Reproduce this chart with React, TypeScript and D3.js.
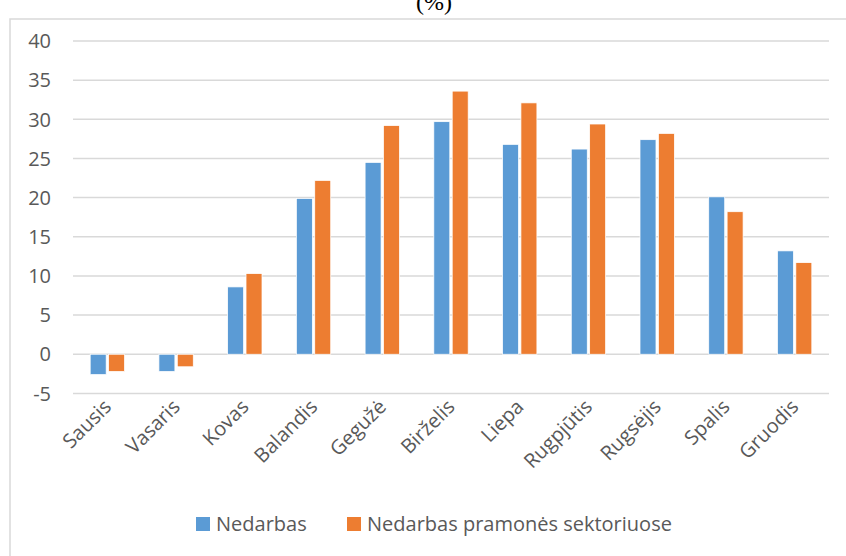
import { useRef, useEffect } from "react";
import * as d3 from "d3";

const categories = [
  "Sausis",
  "Vasaris",
  "Kovas",
  "Balandis",
  "Gegužė",
  "Birželis",
  "Liepa",
  "Rugpjūtis",
  "Rugsėjis",
  "Spalis",
  "Gruodis",
];
const seriesNames = ["Nedarbas", "Nedarbas pramonės sektoriuose"];
const nedarbas = [-2.6, -2.2, 8.6, 19.9, 24.5, 29.7, 26.8, 26.2, 27.4, 20.1, 13.2];
const pramone = [-2.2, -1.6, 10.3, 22.2, 29.2, 33.6, 32.1, 29.4, 28.2, 18.2, 11.7];
const yTicks = [-5, 0, 5, 10, 15, 20, 25, 30, 35, 40];
const colors = ["#5B9BD5", "#ED7D31"];

export default function App() {
  const svgRef = useRef<SVGSVGElement>(null);

  useEffect(() => {
    if (!svgRef.current) return;
    document.body.style.margin = "0";

    const width = 846;
    const height = 556;
    const plot = { left: 73, right: 829, top: 41, bottom: 393.4 };

    const svg = d3.select(svgRef.current);
    svg.selectAll("*").remove();
    svg.attr("width", width).attr("height", height).style("display", "block");

    svg.append("rect").attr("width", width).attr("height", height).attr("fill", "#fff");

    // outer chart border (only left/top visible, cropped on the other sides)
    svg
      .append("path")
      .attr("d", `M10,${height + 2}V19H${width + 2}`)
      .attr("fill", "none")
      .attr("stroke", "#D9D9D9")
      .attr("stroke-width", 1.5);

    // title, cut off at top as in the source
    svg
      .append("text")
      .attr("x", 434)
      .attr("y", 10)
      .attr("text-anchor", "middle")
      .attr("font-family", "'Liberation Serif', 'Times New Roman', serif")
      .attr("font-size", 24)
      .attr("fill", "#000")
      .text("(%)");

    const x0 = d3
      .scaleBand<string>()
      .domain(categories)
      .range([plot.left, plot.right])
      .paddingInner(0.5)
      .paddingOuter(0.25);

    const x1 = d3
      .scaleBand<string>()
      .domain(seriesNames)
      .range([0, x0.bandwidth()])
      .paddingInner(0.13);

    const y = d3.scaleLinear().domain([-5, 40]).range([plot.bottom, plot.top]);

    // gridlines
    svg
      .append("g")
      .selectAll("line")
      .data(yTicks)
      .join("line")
      .attr("x1", plot.left)
      .attr("x2", plot.right)
      .attr("y1", (d) => y(d))
      .attr("y2", (d) => y(d))
      .attr("stroke", "#D9D9D9")
      .attr("stroke-width", 1.5);

    // y labels
    svg
      .append("g")
      .selectAll("text")
      .data(yTicks)
      .join("text")
      .attr("x", 51)
      .attr("y", (d) => y(d))
      .attr("dy", "0.36em")
      .attr("text-anchor", "end")
      .attr("font-family", "'Open Sans', sans-serif")
      .attr("font-size", 20)
      .attr("fill", "#595959")
      .text((d) => d);

    // bars
    const seriesData = [nedarbas, pramone];
    seriesData.forEach((vals, si) => {
      svg
        .append("g")
        .selectAll("rect")
        .data(vals)
        .join("rect")
        .attr("x", (_, i) => (x0(categories[i]) ?? 0) + (x1(seriesNames[si]) ?? 0))
        .attr("width", x1.bandwidth())
        .attr("y", (d) => y(Math.max(0, d)))
        .attr("height", (d) => Math.abs(y(d) - y(0)))
        .attr("fill", colors[si])
        .attr("stroke", "#fff")
        .attr("stroke-width", 0.75);
    });

    // x labels
    svg
      .append("g")
      .selectAll("text")
      .data(categories)
      .join("text")
      .attr("transform", (d) => `translate(${(x0(d) ?? 0) + x0.bandwidth() / 2}, 403) rotate(-45)`)
      .attr("text-anchor", "end")
      .attr("dy", "0.36em")
      .attr("font-family", "'Open Sans', sans-serif")
      .attr("font-size", 20)
      .attr("fill", "#595959")
      .text((d) => d);

    // legend
    const legendItems = [
      { name: seriesNames[0], sq: 196, tx: 216 },
      { name: seriesNames[1], sq: 347, tx: 367 },
    ];
    const lg = svg.append("g");
    legendItems.forEach((it, i) => {
      lg.append("rect")
        .attr("x", it.sq)
        .attr("y", 517)
        .attr("width", 14)
        .attr("height", 14)
        .attr("fill", colors[i]);
      lg.append("text")
        .attr("x", it.tx)
        .attr("y", 524)
        .attr("dy", "0.36em")
        .attr("font-family", "'Open Sans', sans-serif")
        .attr("font-size", 20)
        .attr("fill", "#595959")
        .text(it.name);
    });
  }, []);

  return <svg ref={svgRef} />;
}
